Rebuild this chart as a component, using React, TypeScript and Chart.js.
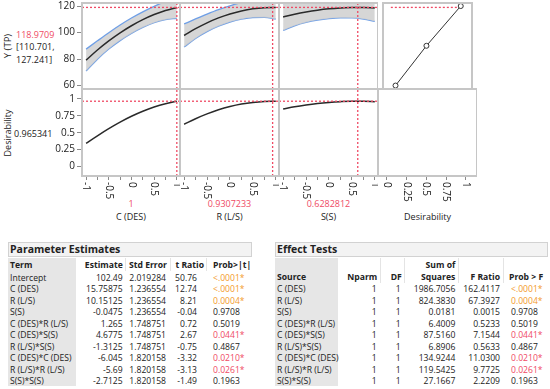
import React, { useEffect, useRef } from "react";
import { Chart, registerables } from "chart.js";
Chart.register(...registerables);

const FONT = "'Open Sans', 'Noto Sans', sans-serif";
const RED = "#ef4a64";
const ORANGE = "#f39a2b";
const BLUE = "#6f9fe6";
const BAND = "rgba(204,204,204,0.8)";
const FRAME = "#c6c6c6";
const INK = "#222222";

// ---------------- Profiler data ----------------
const FACTOR_NAMES = ["C (DES)", "R (L/S)", "S(S)"];
const CURRENT_SETTINGS = [1, 0.9307233, 0.6282812];
const CURRENT_LABELS = ["1", "0.9307233", "0.6282812"];
const PREDICTED_Y = 118.9709;
const CI_TEXT = ["[110.701,", "127.241]"];
const DESIRABILITY_NOW = 0.965341;

const LEVELS = [-1, -0.75, -0.5, -0.25, 0, 0.25, 0.5, 0.75, 1];

const Y_PRED_C = [79.22, 86.83, 93.69, 99.79, 105.14, 109.73, 113.57, 116.65, 118.97];
const Y_LOW_C = [70.95, 79.92, 87.51, 93.92, 99.34, 103.86, 107.39, 109.74, 110.7];
const Y_HIGH_C = [87.49, 93.74, 99.87, 105.66, 110.94, 115.6, 119.75, 123.56, 127.24];

const Y_PRED_R = [97.76, 102.9, 107.32, 111.04, 114.04, 116.33, 117.92, 118.79, 118.94];
const Y_LOW_R = [89.04, 95.55, 100.73, 104.78, 107.87, 110.07, 111.33, 111.44, 110.22];
const Y_HIGH_R = [106.48, 110.25, 113.91, 117.3, 120.21, 122.59, 124.51, 126.14, 127.66];

const Y_PRED_S = [111.78, 113.82, 115.52, 116.88, 117.9, 118.58, 118.93, 118.93, 118.6];
const Y_LOW_S = [101.62, 105.08, 107.62, 109.39, 110.53, 111.09, 111.03, 110.19, 108.44];
const Y_HIGH_S = [121.94, 122.56, 123.42, 124.37, 125.27, 126.07, 126.83, 127.67, 128.76];

const DES_C = [0.344, 0.454, 0.559, 0.657, 0.743, 0.817, 0.879, 0.928, 0.965];
const DES_R = [0.625, 0.707, 0.778, 0.838, 0.886, 0.923, 0.948, 0.962, 0.965];
const DES_S = [0.85, 0.883, 0.91, 0.932, 0.948, 0.959, 0.965, 0.965, 0.959];

const DES_FN_D = [0.066, 0.5, 0.9819];
const DES_FN_Y = [60, 90, 120];

const Y_TICKS = [60, 70, 80, 90, 100, 110, 120];
const D_TICKS = [0, 0.25, 0.5, 0.75, 1];
const D_TICK_LABELS = ["0", "0.25", "0.5", "0.75", "1"];
const X_TICKS = [-1, -0.75, -0.5, -0.25, 0, 0.25, 0.5, 0.75, 1];
const X_MAJOR = [-1, -0.5, 0, 0.5, 1];
const X_MAJOR_LABELS = ["-1", "-0.5", "0", "0.5", "1"];

// ---------------- Tables ----------------
const PE_TERMS = ["Intercept", "C (DES)", "R (L/S)", "S(S)", "C (DES)*R (L/S)", "C (DES)*S(S)", "R (L/S)*S(S)", "C (DES)*C (DES)", "R (L/S)*R (L/S)", "S(S)*S(S)"];
const PE_ESTIMATE = ["102.49", "15.75875", "10.15125", "-0.0475", "1.265", "4.6775", "-1.3125", "-6.045", "-5.69", "-2.7125"];
const PE_STD_ERROR = ["2.019284", "1.236554", "1.236554", "1.236554", "1.748751", "1.748751", "1.748751", "1.820158", "1.820158", "1.820158"];
const PE_T_RATIO = ["50.76", "12.74", "8.21", "-0.04", "0.72", "2.67", "-0.75", "-3.32", "-3.13", "-1.49"];
const PE_PROB = ["<.0001*", "<.0001*", "0.0004*", "0.9708", "0.5019", "0.0441*", "0.4867", "0.0210*", "0.0261*", "0.1963"];

const ET_SOURCE = ["C (DES)", "R (L/S)", "S(S)", "C (DES)*R (L/S)", "C (DES)*S(S)", "R (L/S)*S(S)", "C (DES)*C (DES)", "R (L/S)*R (L/S)", "S(S)*S(S)"];
const ET_NPARM = ["1", "1", "1", "1", "1", "1", "1", "1", "1"];
const ET_DF = ["1", "1", "1", "1", "1", "1", "1", "1", "1"];
const ET_SS = ["1986.7056", "824.3830", "0.0181", "6.4009", "87.5160", "6.8906", "134.9244", "119.5425", "27.1667"];
const ET_F = ["162.4117", "67.3927", "0.0015", "0.5233", "7.1544", "0.5633", "11.0300", "9.7725", "2.2209"];
const ET_PROB = ["<.0001*", "0.0004*", "0.9708", "0.5019", "0.0441*", "0.4867", "0.0210*", "0.0261*", "0.1963"];

// ---------------- geometry ----------------
const COLS: [number, number][] = [[82, 180], [180, 279], [279, 378], [378, 477]];
const ROWS: [number, number][] = [[3, 89], [89, 176]];
const Y_RANGE = [57.4, 122.3];
const D_RANGE = [-0.14, 1.146];
const X_RANGE = [-1.09, 1.07];
const DX_RANGE = [-0.11, 1.14];

Chart.defaults.font.family = FONT;

const framePlugin = {
  id: "frame",
  afterDatasetsDraw(chart: any) {
    const { ctx, chartArea: a } = chart;
    ctx.save();
    ctx.strokeStyle = FRAME;
    ctx.lineWidth = 2;
    ctx.strokeRect(a.left, a.top, a.right - a.left, a.bottom - a.top);
    ctx.restore();
  },
};

function makeXLabelPlugin(values: number[], labels: string[]) {
  return {
    id: "xlabels",
    afterDraw(chart: any) {
      const s = chart.scales.x;
      const ctx = chart.ctx;
      ctx.save();
      ctx.font = `10px ${FONT}`;
      ctx.fillStyle = INK;
      ctx.textAlign = "left";
      ctx.textBaseline = "middle";
      values.forEach((v, i) => {
        const x = s.getPixelForValue(v);
        ctx.save();
        ctx.translate(x, s.top + 6);
        ctx.rotate(Math.PI / 2);
        ctx.fillText(labels[i], 0, 0);
        ctx.restore();
      });
      ctx.restore();
    },
  };
}

const pts = (xs: number[], ys: number[]) => xs.map((x, i) => ({ x, y: ys[i] }));

function lineDs(data: any[], color: string, width: number, extra: any = {}) {
  return {
    data,
    borderColor: color,
    borderWidth: width,
    pointRadius: 0,
    fill: false,
    cubicInterpolationMode: "monotone",
    clip: 0,
    ...extra,
  };
}

function dotted(data: any[]) {
  return lineDs(data, RED, 1.3, { borderDash: [2, 2], cubicInterpolationMode: "default", tension: 0 });
}

type Spec = { left: number; top: number; width: number; height: number; config: any };

function makeSpec(col: number, row: number): Spec {
  const [l, r] = COLS[col];
  const [t, b] = ROWS[row];
  const padT = 8;
  const padB = row === 0 ? 8 : 0;
  const xAxisH = row === 1 ? 46 : 0;
  const yAxisW = col === 0 ? 50 : 0;
  const left = l - yAxisW;
  const top = t - padT;
  const width = r - l + yAxisW;
  const height = b - t + padT + padB + xAxisH;

  const isDesCol = col === 3;
  const xr = isDesCol ? DX_RANGE : X_RANGE;
  const yr = row === 0 ? Y_RANGE : D_RANGE;
  const yTicks = row === 0 ? Y_TICKS : D_TICKS;
  const yLabels = row === 0 ? Y_TICKS.map(String) : D_TICK_LABELS;

  // datasets listed top-most first (Chart.js paints the first dataset last)
  const datasets: any[] = [];
  if (!isDesCol) {
    const cur = CURRENT_SETTINGS[col];
    datasets.push(dotted([{ x: cur, y: yr[0] }, { x: cur, y: yr[1] }]));
    if (row === 0) {
      const pred = [Y_PRED_C, Y_PRED_R, Y_PRED_S][col];
      const lo = [Y_LOW_C, Y_LOW_R, Y_LOW_S][col];
      const hi = [Y_HIGH_C, Y_HIGH_R, Y_HIGH_S][col];
      datasets.push(dotted([{ x: xr[0], y: PREDICTED_Y }, { x: xr[1], y: PREDICTED_Y }]));
      datasets.push(lineDs(pts(LEVELS, pred), "#2a2a2a", 1.5));
      datasets.push(lineDs(pts(LEVELS, hi), BLUE, 1.3, { fill: "+1", backgroundColor: BAND }));
      datasets.push(lineDs(pts(LEVELS, lo), BLUE, 1.3));
    } else {
      const des = [DES_C, DES_R, DES_S][col];
      datasets.push(dotted([{ x: xr[0], y: DESIRABILITY_NOW }, { x: xr[1], y: DESIRABILITY_NOW }]));
      datasets.push(lineDs(pts(LEVELS, des), "#2a2a2a", 1.5));
    }
  } else if (row === 0) {
    datasets.push(
      lineDs(pts(DES_FN_D, DES_FN_Y), "#333", 1, {
        cubicInterpolationMode: "default",
        tension: 0,
        pointRadius: 2.5,
        pointStyle: "circle",
        pointBackgroundColor: "#fff",
        pointBorderColor: "#333",
        pointBorderWidth: 1,
        clip: 4,
      })
    );
    datasets.push(dotted([{ x: 0, y: PREDICTED_Y }, { x: DESIRABILITY_NOW, y: PREDICTED_Y }]));
  }

  const plugins: any[] = [framePlugin];
  if (row === 1) {
    plugins.push(isDesCol ? makeXLabelPlugin(D_TICKS, D_TICK_LABELS) : makeXLabelPlugin(X_MAJOR, X_MAJOR_LABELS));
  }

  const config = {
    type: "line",
    data: { datasets },
    plugins,
    options: {
      responsive: false,
      animation: false,
      events: [],
      layout: { padding: { top: padT, bottom: padB, left: 0, right: 0 } },
      plugins: { legend: { display: false }, tooltip: { enabled: false } },
      scales: {
        x: {
          type: "linear",
          min: xr[0],
          max: xr[1],
          display: row === 1,
          border: { display: false },
          grid: { display: true, drawOnChartArea: false, drawTicks: true, tickLength: 4, tickColor: "#8a8a8a" },
          ticks: { display: false },
          afterBuildTicks: (s: any) => {
            s.ticks = (isDesCol ? D_TICKS : X_TICKS).map((v) => ({ value: v }));
          },
          afterFit: (s: any) => {
            s.height = xAxisH;
          },
        },
        y: {
          type: "linear",
          min: yr[0],
          max: yr[1],
          display: col === 0,
          border: { display: false },
          grid: { display: true, drawOnChartArea: false, drawTicks: true, tickLength: 5, tickColor: "#8a8a8a" },
          ticks: {
            color: INK,
            padding: 2,
            font: { size: 10, family: FONT },
            callback: (_v: any, i: number) => yLabels[i],
          },
          afterBuildTicks: (s: any) => {
            s.ticks = yTicks.map((v) => ({ value: v }));
          },
          afterFit: (s: any) => {
            s.width = yAxisW;
          },
        },
      },
    },
  };
  return { left, top, width, height, config };
}

function ChartCanvas({ spec }: { spec: Spec }) {
  const ref = useRef<HTMLCanvasElement>(null);
  useEffect(() => {
    const chart = new Chart(ref.current as HTMLCanvasElement, spec.config);
    return () => chart.destroy();
  }, []);
  return (
    <canvas
      ref={ref}
      width={spec.width}
      height={spec.height}
      style={{ position: "absolute", left: spec.left, top: spec.top, width: spec.width, height: spec.height }}
    />
  );
}

function Txt(props: {
  x: number;
  y: number;
  text: string;
  align?: "left" | "right" | "center";
  size?: number;
  bold?: boolean;
  color?: string;
  rotate?: boolean;
}) {
  const { x, y, text, align = "left", size = 9, bold = false, color = INK, rotate = false } = props;
  const lh = Math.round(size * 1.4);
  const style: any = {
    position: "absolute",
    fontSize: size,
    lineHeight: `${lh}px`,
    fontWeight: bold ? 700 : 400,
    color,
    whiteSpace: "nowrap",
  };
  if (rotate) {
    style.left = x;
    style.top = y;
    style.transform = "translate(-50%, -50%) rotate(-90deg)";
  } else {
    style.top = y - lh / 2;
    if (align === "left") style.left = x;
    else if (align === "right") style.right = 550 - x;
    else {
      style.left = x;
      style.transform = "translateX(-50%)";
    }
  }
  return <div style={style}>{text}</div>;
}

function probColor(s: string) {
  if (!s.endsWith("*")) return INK;
  const p = s.startsWith("<") ? 0 : parseFloat(s);
  return p < 0.01 ? ORANGE : RED;
}

const TABLE_FS = 8.6;
const ROW0 = 277.5;
const ROW_STEP = 11.5;

export default function App() {
  const specs: Spec[] = [];
  for (let row = 0; row < 2; row++) for (let col = 0; col < 4; col++) specs.push(makeSpec(col, row));

  const colCenters = COLS.map(([l, r]) => (l + r) / 2);

  return (
    <div
      style={{
        position: "absolute",
        left: 0,
        top: 0,
        width: 550,
        height: 389,
        background: "#fff",
        fontFamily: FONT,
        overflow: "hidden",
      }}
    >
      {/* profiler side labels */}
      <Txt x={7} y={46} text="Y (TP)" size={9.5} rotate />
      <Txt x={16} y={34} text={PREDICTED_Y.toFixed(4)} size={9} color={RED} />
      <Txt x={16} y={46.5} text={CI_TEXT[0]} size={9} />
      <Txt x={16} y={59} text={CI_TEXT[1]} size={9} />
      <Txt x={6.5} y={133} text="Desirability" size={9} rotate />
      <Txt x={14} y={133} text={String(DESIRABILITY_NOW)} size={9} />

      {CURRENT_LABELS.map((t, i) => (
        <Txt key={"v" + i} x={colCenters[i]} y={203} text={t} align="center" size={9} color={RED} />
      ))}
      {FACTOR_NAMES.map((t, i) => (
        <Txt key={"f" + i} x={colCenters[i]} y={216} text={t} align="center" size={9} />
      ))}
      <Txt x={colCenters[3]} y={216} text="Desirability" align="center" size={9} />

      {specs.map((s, i) => (
        <ChartCanvas key={i} spec={s} />
      ))}

      {/* Parameter Estimates */}
      <div style={{ position: "absolute", left: 8, top: 242, width: 244, height: 15, background: "#f3f3f3", border: "1px solid #d2d2d2", boxSizing: "border-box" }} />
      <Txt x={10} y={249.5} text="Parameter Estimates" size={10.5} bold />
      <div style={{ position: "absolute", left: 8, top: 258, width: 68, height: 128, background: "#e6e6e6" }} />
      {[125, 170, 206].map((x) => (
        <div key={x} style={{ position: "absolute", left: x, top: 258, width: 1, height: 13, background: "#e4e4e4" }} />
      ))}
      <Txt x={10} y={264.5} text="Term" size={TABLE_FS} bold />
      <Txt x={122.7} y={264.5} text="Estimate" size={TABLE_FS} bold align="right" />
      <Txt x={167} y={264.5} text="Std Error" size={TABLE_FS} bold align="right" />
      <Txt x={204} y={264.5} text="t Ratio" size={TABLE_FS} bold align="right" />
      <Txt x={213} y={264.5} text="Prob>|t|" size={TABLE_FS} bold />
      {PE_TERMS.map((t, i) => {
        const y = ROW0 + i * ROW_STEP;
        return (
          <React.Fragment key={"pe" + i}>
            <Txt x={10} y={y} text={t} size={TABLE_FS} />
            <Txt x={122.7} y={y} text={PE_ESTIMATE[i]} size={TABLE_FS} align="right" />
            <Txt x={166} y={y} text={PE_STD_ERROR[i]} size={TABLE_FS} align="right" />
            <Txt x={197} y={y} text={PE_T_RATIO[i]} size={TABLE_FS} align="right" />
            <Txt x={213} y={y} text={PE_PROB[i]} size={TABLE_FS} color={probColor(PE_PROB[i])} />
          </React.Fragment>
        );
      })}

      {/* Effect Tests */}
      <div style={{ position: "absolute", left: 275, top: 242, width: 273, height: 15, background: "#f3f3f3", border: "1px solid #d2d2d2", boxSizing: "border-box" }} />
      <Txt x={277} y={249.5} text="Effect Tests" size={10.5} bold />
      <div style={{ position: "absolute", left: 275, top: 258, width: 63, height: 128, background: "#e6e6e6" }} />
      {[380, 404, 458, 503].map((x) => (
        <div key={x} style={{ position: "absolute", left: x, top: 258, width: 1, height: 25, background: "#e4e4e4" }} />
      ))}
      <Txt x={455.3} y={264.5} text="Sum of" size={TABLE_FS} bold align="right" />
      <Txt x={277} y={276.7} text="Source" size={TABLE_FS} bold />
      <Txt x={377.3} y={276.7} text="Nparm" size={TABLE_FS} bold align="right" />
      <Txt x={401.7} y={276.7} text="DF" size={TABLE_FS} bold align="right" />
      <Txt x={455.3} y={276.7} text="Squares" size={TABLE_FS} bold align="right" />
      <Txt x={500} y={276.7} text="F Ratio" size={TABLE_FS} bold align="right" />
      <Txt x={509} y={276.7} text="Prob > F" size={TABLE_FS} bold />
      {ET_SOURCE.map((t, i) => {
        const y = ROW0 + (i + 1) * ROW_STEP;
        return (
          <React.Fragment key={"et" + i}>
            <Txt x={277} y={y} text={t} size={TABLE_FS} />
            <Txt x={376.7} y={y} text={ET_NPARM[i]} size={TABLE_FS} align="right" />
            <Txt x={400.7} y={y} text={ET_DF[i]} size={TABLE_FS} align="right" />
            <Txt x={455.3} y={y} text={ET_SS[i]} size={TABLE_FS} align="right" />
            <Txt x={500} y={y} text={ET_F[i]} size={TABLE_FS} align="right" />
            <Txt x={511} y={y} text={ET_PROB[i]} size={TABLE_FS} color={probColor(ET_PROB[i])} />
          </React.Fragment>
        );
      })}
    </div>
  );
}
